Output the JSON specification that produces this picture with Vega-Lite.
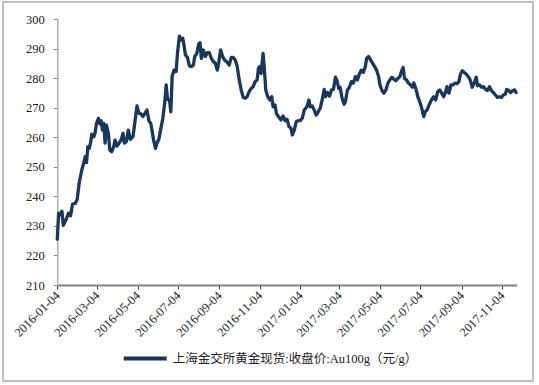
{
  "$schema": "https://vega.github.io/schema/vega-lite/v6.json",
  "autosize": {"type": "none"},
  "padding": {"left": 3, "top": 2, "right": 6, "bottom": 4},
  "width": 530,
  "height": 379,
  "background": "white",
  "config": {
    "view": {"stroke": "#bfbfbf", "strokeWidth": 2},
    "font": "Liberation Serif"
  },
  "data": {
    "values": [
      {"d": "2016-01-04", "v": 225.5}, {"d": "2016-01-06", "v": 234.3}, {"d": "2016-01-08", "v": 233.7}, {"d": "2016-01-11", "v": 235.0},
      {"d": "2016-01-13", "v": 230.2}, {"d": "2016-01-17", "v": 232.0}, {"d": "2016-01-21", "v": 234.3}, {"d": "2016-01-24", "v": 233.4},
      {"d": "2016-01-27", "v": 237.4}, {"d": "2016-01-31", "v": 237.6}, {"d": "2016-02-03", "v": 239.0}, {"d": "2016-02-06", "v": 244.6},
      {"d": "2016-02-10", "v": 249.0}, {"d": "2016-02-13", "v": 251.4}, {"d": "2016-02-15", "v": 253.4}, {"d": "2016-02-17", "v": 251.4},
      {"d": "2016-02-19", "v": 256.8}, {"d": "2016-02-21", "v": 256.2}, {"d": "2016-02-23", "v": 258.0}, {"d": "2016-02-25", "v": 261.0},
      {"d": "2016-02-28", "v": 260.2}, {"d": "2016-03-01", "v": 261.5}, {"d": "2016-03-03", "v": 264.7}, {"d": "2016-03-06", "v": 266.4},
      {"d": "2016-03-08", "v": 264.5}, {"d": "2016-03-10", "v": 265.6}, {"d": "2016-03-12", "v": 262.4}, {"d": "2016-03-14", "v": 264.7},
      {"d": "2016-03-16", "v": 258.0}, {"d": "2016-03-18", "v": 264.1}, {"d": "2016-03-21", "v": 261.3}, {"d": "2016-03-23", "v": 255.7},
      {"d": "2016-03-26", "v": 255.1}, {"d": "2016-03-29", "v": 256.8}, {"d": "2016-03-31", "v": 259.0}, {"d": "2016-04-03", "v": 257.0},
      {"d": "2016-04-06", "v": 258.0}, {"d": "2016-04-09", "v": 259.0}, {"d": "2016-04-12", "v": 261.3}, {"d": "2016-04-14", "v": 258.0},
      {"d": "2016-04-17", "v": 258.5}, {"d": "2016-04-20", "v": 262.4}, {"d": "2016-04-23", "v": 259.3}, {"d": "2016-04-27", "v": 260.2},
      {"d": "2016-04-30", "v": 265.3}, {"d": "2016-05-03", "v": 270.6}, {"d": "2016-05-06", "v": 268.1}, {"d": "2016-05-09", "v": 267.9},
      {"d": "2016-05-12", "v": 267.0}, {"d": "2016-05-15", "v": 268.1}, {"d": "2016-05-18", "v": 269.2}, {"d": "2016-05-21", "v": 265.6},
      {"d": "2016-05-24", "v": 264.5}, {"d": "2016-05-26", "v": 261.9}, {"d": "2016-05-28", "v": 259.0}, {"d": "2016-05-31", "v": 256.2},
      {"d": "2016-06-02", "v": 258.0}, {"d": "2016-06-05", "v": 259.3}, {"d": "2016-06-08", "v": 263.0}, {"d": "2016-06-11", "v": 266.4},
      {"d": "2016-06-14", "v": 272.0}, {"d": "2016-06-16", "v": 277.7}, {"d": "2016-06-18", "v": 272.8}, {"d": "2016-06-21", "v": 272.6},
      {"d": "2016-06-23", "v": 268.6}, {"d": "2016-06-25", "v": 280.7}, {"d": "2016-06-28", "v": 282.7}, {"d": "2016-07-01", "v": 282.2},
      {"d": "2016-07-03", "v": 288.4}, {"d": "2016-07-06", "v": 294.2}, {"d": "2016-07-08", "v": 292.9}, {"d": "2016-07-11", "v": 293.5},
      {"d": "2016-07-13", "v": 290.9}, {"d": "2016-07-15", "v": 287.8}, {"d": "2016-07-18", "v": 287.0}, {"d": "2016-07-21", "v": 284.1},
      {"d": "2016-07-24", "v": 283.9}, {"d": "2016-07-27", "v": 284.4}, {"d": "2016-07-29", "v": 287.3}, {"d": "2016-08-01", "v": 288.2},
      {"d": "2016-08-04", "v": 291.5}, {"d": "2016-08-06", "v": 292.0}, {"d": "2016-08-08", "v": 286.7}, {"d": "2016-08-11", "v": 289.5},
      {"d": "2016-08-14", "v": 287.3}, {"d": "2016-08-17", "v": 288.6}, {"d": "2016-08-20", "v": 288.6}, {"d": "2016-08-23", "v": 286.7},
      {"d": "2016-08-26", "v": 285.6}, {"d": "2016-08-29", "v": 285.0}, {"d": "2016-09-01", "v": 282.7}, {"d": "2016-09-03", "v": 285.0},
      {"d": "2016-09-06", "v": 289.5}, {"d": "2016-09-09", "v": 287.3}, {"d": "2016-09-12", "v": 286.1}, {"d": "2016-09-15", "v": 285.6},
      {"d": "2016-09-19", "v": 284.4}, {"d": "2016-09-22", "v": 287.0}, {"d": "2016-09-25", "v": 287.0}, {"d": "2016-09-28", "v": 286.1},
      {"d": "2016-10-01", "v": 283.9}, {"d": "2016-10-04", "v": 279.4}, {"d": "2016-10-07", "v": 276.0}, {"d": "2016-10-10", "v": 273.5},
      {"d": "2016-10-13", "v": 273.2}, {"d": "2016-10-16", "v": 273.7}, {"d": "2016-10-19", "v": 275.4}, {"d": "2016-10-22", "v": 276.5},
      {"d": "2016-10-25", "v": 277.1}, {"d": "2016-10-28", "v": 278.8}, {"d": "2016-10-31", "v": 279.4}, {"d": "2016-11-02", "v": 283.3},
      {"d": "2016-11-04", "v": 283.9}, {"d": "2016-11-06", "v": 281.6}, {"d": "2016-11-09", "v": 288.4}, {"d": "2016-11-11", "v": 282.7},
      {"d": "2016-11-13", "v": 276.0}, {"d": "2016-11-16", "v": 273.7}, {"d": "2016-11-19", "v": 272.6}, {"d": "2016-11-22", "v": 273.7},
      {"d": "2016-11-24", "v": 270.3}, {"d": "2016-11-27", "v": 270.9}, {"d": "2016-11-29", "v": 268.1}, {"d": "2016-12-02", "v": 267.0},
      {"d": "2016-12-06", "v": 265.8}, {"d": "2016-12-09", "v": 267.2}, {"d": "2016-12-12", "v": 265.6}, {"d": "2016-12-15", "v": 266.1},
      {"d": "2016-12-18", "v": 263.6}, {"d": "2016-12-21", "v": 263.0}, {"d": "2016-12-23", "v": 260.8}, {"d": "2016-12-26", "v": 262.4},
      {"d": "2016-12-29", "v": 265.3}, {"d": "2017-01-01", "v": 265.6}, {"d": "2017-01-04", "v": 265.6}, {"d": "2017-01-07", "v": 266.4},
      {"d": "2017-01-10", "v": 269.2}, {"d": "2017-01-14", "v": 270.3}, {"d": "2017-01-17", "v": 272.6}, {"d": "2017-01-19", "v": 270.3},
      {"d": "2017-01-22", "v": 270.6}, {"d": "2017-01-25", "v": 269.2}, {"d": "2017-01-28", "v": 267.5}, {"d": "2017-01-31", "v": 268.6},
      {"d": "2017-02-03", "v": 269.8}, {"d": "2017-02-06", "v": 272.6}, {"d": "2017-02-09", "v": 276.2}, {"d": "2017-02-11", "v": 273.7},
      {"d": "2017-02-14", "v": 275.1}, {"d": "2017-02-17", "v": 273.9}, {"d": "2017-02-20", "v": 276.0}, {"d": "2017-02-23", "v": 276.2},
      {"d": "2017-02-26", "v": 280.3}, {"d": "2017-02-28", "v": 279.4}, {"d": "2017-03-03", "v": 276.5}, {"d": "2017-03-05", "v": 276.9},
      {"d": "2017-03-08", "v": 273.2}, {"d": "2017-03-11", "v": 271.2}, {"d": "2017-03-13", "v": 272.0}, {"d": "2017-03-16", "v": 276.0},
      {"d": "2017-03-19", "v": 276.9}, {"d": "2017-03-22", "v": 278.8}, {"d": "2017-03-25", "v": 278.3}, {"d": "2017-03-28", "v": 280.5},
      {"d": "2017-03-31", "v": 279.4}, {"d": "2017-04-03", "v": 281.4}, {"d": "2017-04-06", "v": 282.7}, {"d": "2017-04-09", "v": 281.9},
      {"d": "2017-04-12", "v": 283.9}, {"d": "2017-04-14", "v": 286.7}, {"d": "2017-04-17", "v": 287.3}, {"d": "2017-04-20", "v": 286.1},
      {"d": "2017-04-23", "v": 285.0}, {"d": "2017-04-26", "v": 283.9}, {"d": "2017-04-29", "v": 282.7}, {"d": "2017-05-02", "v": 280.5},
      {"d": "2017-05-04", "v": 277.7}, {"d": "2017-05-07", "v": 275.8}, {"d": "2017-05-10", "v": 274.9}, {"d": "2017-05-13", "v": 276.0},
      {"d": "2017-05-16", "v": 278.3}, {"d": "2017-05-19", "v": 279.4}, {"d": "2017-05-22", "v": 280.3}, {"d": "2017-05-25", "v": 279.6},
      {"d": "2017-05-28", "v": 279.1}, {"d": "2017-05-31", "v": 279.9}, {"d": "2017-06-03", "v": 280.5}, {"d": "2017-06-06", "v": 282.7},
      {"d": "2017-06-08", "v": 283.6}, {"d": "2017-06-10", "v": 279.9}, {"d": "2017-06-13", "v": 279.4}, {"d": "2017-06-16", "v": 278.3},
      {"d": "2017-06-19", "v": 277.7}, {"d": "2017-06-22", "v": 276.9}, {"d": "2017-06-24", "v": 278.4}, {"d": "2017-06-27", "v": 276.5},
      {"d": "2017-06-30", "v": 273.7}, {"d": "2017-07-03", "v": 272.0}, {"d": "2017-07-06", "v": 269.8}, {"d": "2017-07-09", "v": 267.0},
      {"d": "2017-07-11", "v": 268.6}, {"d": "2017-07-14", "v": 269.2}, {"d": "2017-07-17", "v": 270.9}, {"d": "2017-07-21", "v": 272.8},
      {"d": "2017-07-24", "v": 273.7}, {"d": "2017-07-27", "v": 272.6}, {"d": "2017-07-30", "v": 275.4}, {"d": "2017-08-02", "v": 276.0},
      {"d": "2017-08-05", "v": 274.9}, {"d": "2017-08-08", "v": 273.7}, {"d": "2017-08-11", "v": 275.4}, {"d": "2017-08-13", "v": 277.1},
      {"d": "2017-08-16", "v": 274.9}, {"d": "2017-08-19", "v": 277.7}, {"d": "2017-08-22", "v": 277.7}, {"d": "2017-08-25", "v": 278.3},
      {"d": "2017-08-28", "v": 278.1}, {"d": "2017-08-31", "v": 278.8}, {"d": "2017-09-02", "v": 281.1}, {"d": "2017-09-05", "v": 282.5},
      {"d": "2017-09-08", "v": 281.9}, {"d": "2017-09-11", "v": 281.4}, {"d": "2017-09-14", "v": 280.5}, {"d": "2017-09-17", "v": 279.4},
      {"d": "2017-09-20", "v": 276.9}, {"d": "2017-09-23", "v": 278.3}, {"d": "2017-09-26", "v": 280.3}, {"d": "2017-09-28", "v": 277.4},
      {"d": "2017-10-01", "v": 277.7}, {"d": "2017-10-04", "v": 276.9}, {"d": "2017-10-07", "v": 277.1}, {"d": "2017-10-10", "v": 276.2},
      {"d": "2017-10-13", "v": 275.8}, {"d": "2017-10-16", "v": 277.1}, {"d": "2017-10-19", "v": 275.8}, {"d": "2017-10-22", "v": 275.1},
      {"d": "2017-10-25", "v": 274.3}, {"d": "2017-10-28", "v": 273.5}, {"d": "2017-10-31", "v": 273.7}, {"d": "2017-11-03", "v": 273.5},
      {"d": "2017-11-06", "v": 274.3}, {"d": "2017-11-09", "v": 274.6}, {"d": "2017-11-11", "v": 276.2}, {"d": "2017-11-14", "v": 275.8},
      {"d": "2017-11-17", "v": 275.1}, {"d": "2017-11-20", "v": 275.8}, {"d": "2017-11-23", "v": 276.0}, {"d": "2017-11-25", "v": 275.1}
    ]
  },
  "mark": {"type": "line", "strokeWidth": 3.3, "strokeJoin": "round", "strokeCap": "round"},
  "encoding": {
    "x": {
      "field": "d",
      "type": "temporal",
      "scale": {
        "type": "utc",
        "domain": [{"year": 2016, "month": 1, "date": 4, "utc": true}, {"year": 2017, "month": 11, "date": 26, "utc": true}],
        "range": [54.3, 513.7],
        "nice": false
      },
      "axis": {
        "title": null,
        "grid": false,
        "offset": -96,
        "values": [
          {"year": 2016, "month": 1, "date": 4, "utc": true},
          {"year": 2016, "month": 3, "date": 4, "utc": true},
          {"year": 2016, "month": 5, "date": 4, "utc": true},
          {"year": 2016, "month": 7, "date": 4, "utc": true},
          {"year": 2016, "month": 9, "date": 4, "utc": true},
          {"year": 2016, "month": 11, "date": 4, "utc": true},
          {"year": 2017, "month": 1, "date": 4, "utc": true},
          {"year": 2017, "month": 3, "date": 4, "utc": true},
          {"year": 2017, "month": 5, "date": 4, "utc": true},
          {"year": 2017, "month": 7, "date": 4, "utc": true},
          {"year": 2017, "month": 9, "date": 4, "utc": true},
          {"year": 2017, "month": 11, "date": 4, "utc": true}
        ],
        "format": "%Y-%m-%d",
        "labelAngle": -45,
        "labelAlign": "right",
        "labelBaseline": "middle",
        "labelPadding": 4,
        "labelFont": "Liberation Serif",
        "labelFontSize": 12.5,
        "labelColor": "#222222",
        "labelOverlap": false,
        "labelFlush": false,
        "domainColor": "#808080",
        "domainWidth": 2,
        "tickColor": "#404040",
        "tickSize": 4,
        "tickWidth": 1
      }
    },
    "y": {
      "field": "v",
      "type": "quantitative",
      "scale": {"domain": [210, 300], "range": [283, 17], "nice": false, "zero": false},
      "axis": {
        "title": null,
        "grid": false,
        "offset": -54.3,
        "values": [210, 220, 230, 240, 250, 260, 270, 280, 290, 300],
        "labelFont": "Liberation Serif",
        "labelFontSize": 12.5,
        "labelColor": "#222222",
        "labelPadding": 9,
        "domainColor": "#b0b0b0",
        "domainWidth": 1.5,
        "tickColor": "#808080",
        "tickSize": 4
      }
    },
    "color": {
      "datum": "上海金交所黄金现货:收盘价:Au100g（元/g）",
      "type": "nominal",
      "scale": {"range": ["#17375e"]},
      "legend": {
        "title": null,
        "orient": "none",
        "legendX": 118.7,
        "legendY": 333,
        "padding": 0,
        "symbolType": "stroke",
        "symbolSize": 1849,
        "symbolStrokeWidth": 4,
        "labelOffset": 4,
        "labelFont": "Liberation Serif, Noto Sans CJK SC",
        "labelFontSize": 12.5,
        "labelColor": "#222222",
        "labelLimit": 400
      }
    }
  }
}
